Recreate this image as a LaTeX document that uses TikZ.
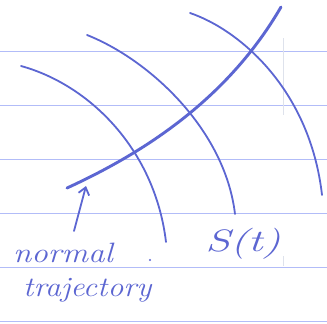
\documentclass[tikz,border=0pt]{standalone}
\usetikzlibrary{arrows.meta}
\definecolor{ink}{RGB}{92,102,210}
\definecolor{rule}{RGB}{178,188,248}
\definecolor{faint}{RGB}{222,226,236}
\tikzset{
  wave/.style={ink, line width=1.8pt, line cap=round, line join=round},
  traj/.style={ink, line width=2.9pt, line cap=round},
  ruling/.style={rule, line width=1pt},
  hand/.style={ink, font=\fontsize{28}{32}\selectfont\itshape, inner sep=0pt},
}
\begin{document}
\begin{tikzpicture}[x=1pt,y=-1pt]
\useasboundingbox (0,0) rectangle (327,324);
\fill[white] (0,0) rectangle (327,324);
% ruled paper
\foreach \yy in {51,105,159,213,267,321}
  \draw[ruling] (0,\yy) -- (327,\yy);
\draw[faint, line width=0.8pt] (283,38) -- (283,115);
\draw[faint, line width=0.8pt] (283,256) -- (283,266);
% wavefronts
\draw[wave] (21,66) .. controls (90,85) and (155,150) .. (166,242);
\draw[wave] (87,35) .. controls (150,60) and (225,130) .. (235,214);
\draw[wave] (190,13) .. controls (240,30) and (310,90) .. (322,195);
% normal trajectory
\draw[traj] (67,188) .. controls (150,150) and (230,95) .. (281,7);
% arrow
\coordinate (tail) at (74,231);
\coordinate (tip) at (86,186);
\draw[wave, -{Straight Barb[length=7pt,width=11pt]}] (tail) -- (tip);
% labels
\node[hand, anchor=base west, xscale=1.18, transform shape] (n1) at (13,262) {normal};
\node[hand, anchor=base west, xscale=1.13, transform shape] (n2) at (23,296) {trajectory};
\node[hand, anchor=base west, font=\fontsize{31}{34}\selectfont\itshape, xscale=1.45, transform shape] (s) at (205,251) {S(t)};
\fill[ink] (150,260) circle (1.1pt);
\end{tikzpicture}
\end{document}
